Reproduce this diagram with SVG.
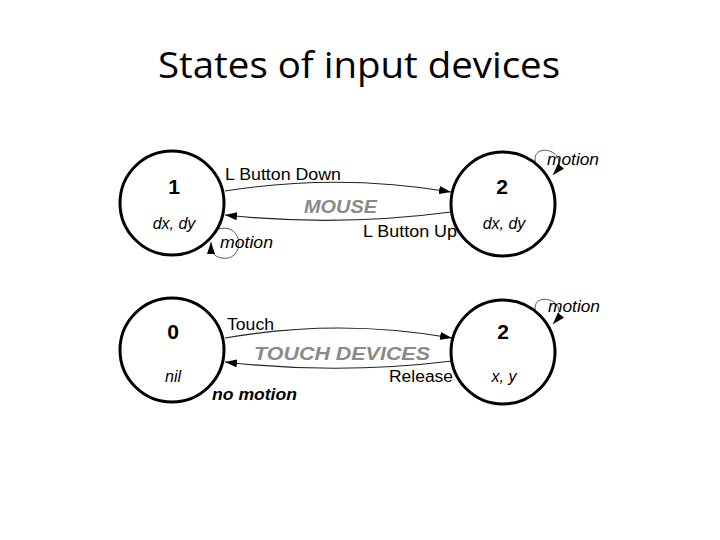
<svg xmlns="http://www.w3.org/2000/svg" width="720" height="540" viewBox="0 0 720 540">
<style>
.title{font-family:"Open Sans","Liberation Sans",sans-serif;font-size:36px;fill:#000}
.st{fill:none;stroke:#000;stroke-width:3}
.num{font-family:"Liberation Sans",Arial,sans-serif;font-size:21px;font-weight:bold;fill:#000;text-anchor:middle}
.var{font-family:"Liberation Sans",Arial,sans-serif;font-size:16px;font-style:italic;fill:#000;text-anchor:middle}
.lbl{font-family:"Liberation Sans",Arial,sans-serif;font-size:16px;fill:#000}
.mot{font-family:"Liberation Sans",Arial,sans-serif;font-size:16px;font-style:italic;fill:#000}
.dev{font-family:"Liberation Sans",Arial,sans-serif;font-size:18px;font-weight:bold;font-style:italic;fill:#8a8a8a}
.nm{font-family:"Liberation Sans",Arial,sans-serif;font-size:16px;font-weight:bold;font-style:italic;fill:#000}
.edge{fill:none;stroke:#222;stroke-width:1.2}
.loop{fill:none;stroke:#555;stroke-width:1}
</style>
<defs>
<marker id="ah" markerUnits="userSpaceOnUse" markerWidth="12" markerHeight="8" refX="12" refY="4" orient="auto">
<path d="M0,0 L12,4 L0,8 z" fill="#000"/>
</marker>
</defs>
<rect width="720" height="540" fill="#fff"/>
<text class="title" x="158" y="78" textLength="402" lengthAdjust="spacingAndGlyphs">States of input devices</text>

<g id="connectors">
<path class="edge" d="M225 191 Q338 173 451 192" marker-end="url(#ah)"/>
<path class="edge" d="M451 212 Q338 227 225 215" marker-end="url(#ah)"/>
<path class="loop" d="M536 164 C528 140 575 150 553 175" marker-end="url(#ah)"/>
<path class="loop" d="M218 229 C245 222 245 262 222 258 C214 257 211 252 211 242" marker-end="url(#ah)"/>
<path class="edge" d="M225 338 Q339 318 452 338" marker-end="url(#ah)"/>
<path class="edge" d="M452 361 Q339 375 225 362" marker-end="url(#ah)"/>
<path class="loop" d="M536 313 C528 289 575 299 553 324" marker-end="url(#ah)"/>
<text class="lbl" x="225" y="180" textLength="116" lengthAdjust="spacingAndGlyphs">L Button Down</text>
<text class="lbl" x="363" y="237" textLength="94" lengthAdjust="spacingAndGlyphs">L Button Up</text>
<text class="mot" x="547" y="165" textLength="52" lengthAdjust="spacingAndGlyphs">motion</text>
<text class="mot" x="220" y="248" textLength="53" lengthAdjust="spacingAndGlyphs">motion</text>
<text class="lbl" x="227" y="330" textLength="47" lengthAdjust="spacingAndGlyphs">Touch</text>
<text class="lbl" x="389" y="382" textLength="64" lengthAdjust="spacingAndGlyphs">Release</text>
<text class="mot" x="548" y="312" textLength="52" lengthAdjust="spacingAndGlyphs">motion</text>
<text class="nm" x="212" y="400" textLength="85" lengthAdjust="spacingAndGlyphs">no motion</text>
<text class="dev" x="304" y="213" textLength="73" lengthAdjust="spacingAndGlyphs">MOUSE</text>
<text class="dev" x="254" y="360" textLength="176" lengthAdjust="spacingAndGlyphs">TOUCH DEVICES</text>
</g>

<g id="mouse-1">
<circle class="st" cx="172" cy="203" r="52"/>
<text class="num" x="174" y="194">1</text>
<text class="var" x="174" y="229">dx, dy</text>
</g>
<g id="mouse-2">
<circle class="st" cx="503" cy="204" r="52"/>
<text class="num" x="502" y="194">2</text>
<text class="var" x="504" y="229">dx, dy</text>
</g>
<g id="touch-0">
<circle class="st" cx="172" cy="350" r="52"/>
<text class="num" x="173" y="339">0</text>
<text class="var" x="173" y="382">nil</text>
</g>
<g id="touch-2">
<circle class="st" cx="503" cy="352" r="52"/>
<text class="num" x="503" y="339">2</text>
<text class="var" x="504" y="382">x, y</text>
</g>
</svg>
